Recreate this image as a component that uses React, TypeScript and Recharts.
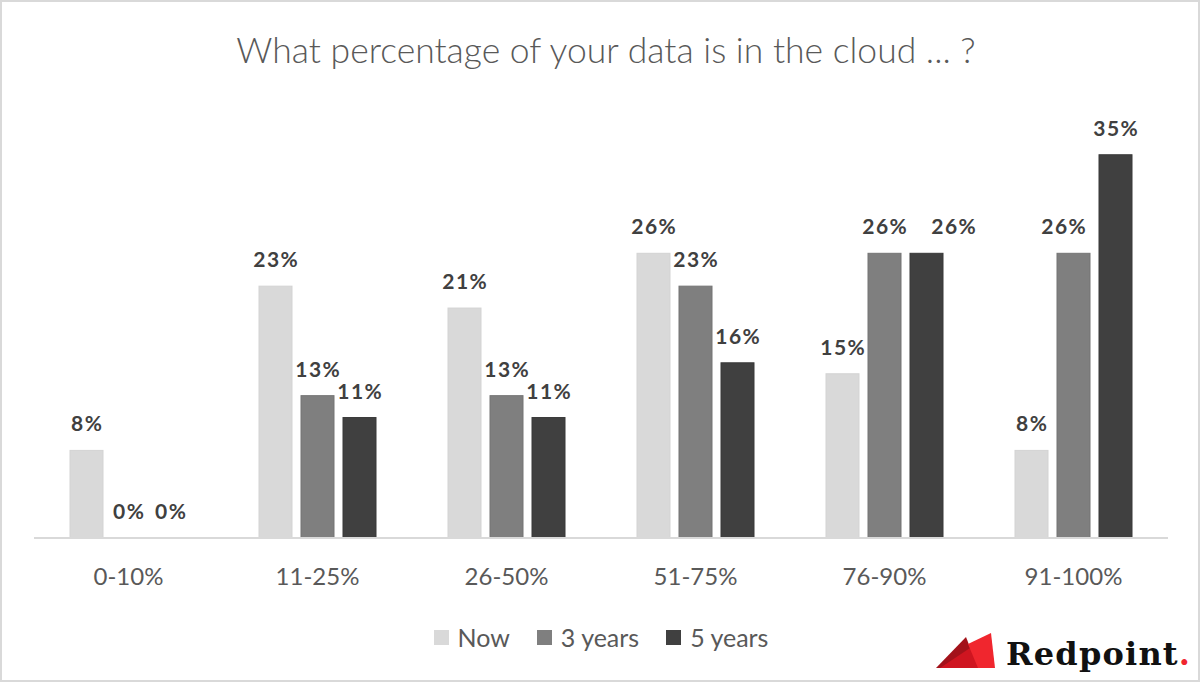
import React from 'react';
import { BarChart, Bar, XAxis, YAxis, Legend, LabelList } from 'recharts';

const categories = ['0-10%', '11-25%', '26-50%', '51-75%', '76-90%', '91-100%'];
const nowValues = [8, 23, 21, 26, 15, 8];
const threeYearValues = [0, 13, 13, 23, 26, 26];
const fiveYearValues = [0, 11, 11, 16, 26, 35];
const seriesNames = ['Now', '3 years', '5 years'];
const seriesColors = ['#d9d9d9', '#7f7f7f', '#404040'];
const seriesStrokes = ['#d3d3d3', '#757575', '#383838'];
const titleText = 'What percentage of your data is in the cloud ... ?';

// horizontal nudges the original applies to labels that would overlap (pixels)
const labelNudges: Record<string, number> = {
  'five|76-90%': 27,
  'three|91-100%': -10,
};

const data = categories.map((c, i) => ({
  category: c,
  now: nowValues[i],
  three: threeYearValues[i],
  five: fiveYearValues[i],
}));

const keys = ['now', 'three', 'five'];

const BarShape = (props: any) => {
  const { x, y, width, height, fill, stroke } = props;
  if (!height || height < 0.5) return <g />;
  return <rect x={x} y={y} width={width} height={height} fill={fill} stroke={stroke} strokeWidth={1} />;
};

const makeLabel = (key: string) => (props: any) => {
  const { x, y, width, value, index } = props;
  const nudge = labelNudges[`${key}|${categories[index]}`] || 0;
  return (
    <text
      x={Number(x) + Number(width) / 2 + nudge + 0.75}
      y={Number(y) - 19}
      textAnchor="middle"
      fill="#404040"
      fontSize={21}
      fontWeight={700}
      letterSpacing={1.5}
      fontFamily="Lato, sans-serif"
    >
      {`${value}%`}
    </text>
  );
};

const LegendContent = () => (
  <div
    style={{
      display: 'flex',
      justifyContent: 'center',
      alignItems: 'center',
      height: 30,
      fontFamily: 'Lato, sans-serif',
      fontSize: 25,
      color: '#595959',
      paddingLeft: 2,
    }}
  >
    {seriesNames.map((n, i) => (
      <div key={n} style={{ display: 'flex', alignItems: 'center', marginLeft: i === 0 ? 0 : 27 }}>
        <div style={{ width: 15, height: 15, background: seriesColors[i], marginRight: 9 }} />
        <span>{n}</span>
      </div>
    ))}
  </div>
);

export default function App() {
  return (
    <div style={{ position: 'absolute', left: 0, top: 0, width: 1200, height: 682, background: '#fff', fontFamily: 'Lato, sans-serif' }}>
      <BarChart
        width={1200}
        height={682}
        data={data}
        margin={{ top: 100, right: 32, bottom: 0, left: 34 }}
        barSize={33}
        barGap={9}
      >
        <XAxis
          dataKey="category"
          height={144}
          axisLine={{ stroke: '#d9d9d9', strokeWidth: 2 }}
          tickLine={false}
          tickMargin={24}
          tick={{ fill: '#595959', fontSize: 24, fontFamily: 'Lato, sans-serif' }}
          interval={0}
        />
        <YAxis hide domain={[0, 40]} />
        <Legend
          verticalAlign="middle"
          align="center"
          layout="horizontal"
          wrapperStyle={{ top: 622, left: 0, width: 1200, height: 30 }}
          content={<LegendContent />}
        />
        {keys.map((k, i) => (
          <Bar
            key={k}
            dataKey={k}
            name={seriesNames[i]}
            fill={seriesColors[i]}
            stroke={seriesStrokes[i]}
            minPointSize={0.01}
            shape={BarShape}
            isAnimationActive={false}
          >
            <LabelList dataKey={k} content={makeLabel(k)} />
          </Bar>
        ))}
      </BarChart>
      <svg
        width={1200}
        height={682}
        style={{ position: 'absolute', left: 0, top: 0, pointerEvents: 'none' }}
      >
        <text x={606} y={63} textAnchor="middle" fontFamily="Lato, sans-serif" fontWeight={300} fontSize={35.5} fill="#595959">
          {titleText}
        </text>
        <polygon points="936,668 966,637 978,668" fill="#a3121a" />
        <polygon points="940,668 970,648 990,668" fill="#cf1520" />
        <polygon points="968,644 991,633 995,668 978,668" fill="#f0262e" />
        <text x={1006} y={665} fontFamily="DejaVu Serif, serif" fontWeight={700} fontSize={32} letterSpacing={1.2} fill="#111">
          Redpoint<tspan fill="#f0262e">.</tspan>
        </text>
        <rect x={1} y={1} width={1198} height={680} fill="none" stroke="#d9d9d9" strokeWidth={2} />
      </svg>
    </div>
  );
}
